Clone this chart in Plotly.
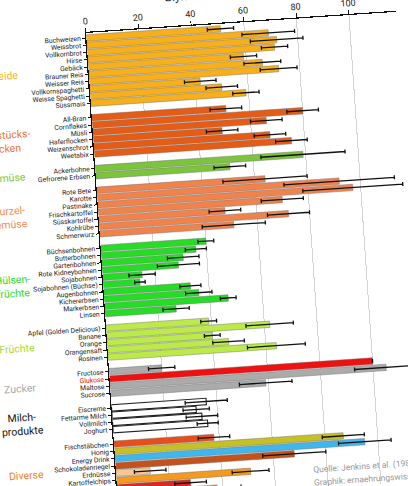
import plotly.graph_objects as go

# ---------------- data ----------------
getreide_items = ["Buchweizen", "Weissbrot", "Vollkornbrot", "Hirse", "Gebäck", "Brauner Reis",
                  "Weisser Reis", "Vollkornspaghetti", "Weisse Spaghetti", "Süssmais"]
getreide_gi = [51, 69, 72, 71, 59, 66, 72, 42, 50, 59]
getreide_err = [5, 10, 10, 5, 5, 7, 7, 6, 6, 5]

flocken_items = ["All-Bran", "Cornflakes", "Müsli", "Haferflocken", "Weizenschrot", "Weetabix"]
flocken_gi = [51, 80, 66, 49, 67, 75]
flocken_err = [6, 6, 6, 6, 6, 6]

gemuese_items = ["Ackerbohne", "Gefrorene Erbsen"]
gemuese_gi = [79, 51]
gemuese_err = [16, 6]

wurzel_items = ["Rote Bete", "Karotte", "Pastinake", "Frischkartoffel", "Süsskartoffel", "Kohlrübe", "Schmerwurz"]
wurzel_gi = [64, 92, 97, 70, 48, 72, 51]
wurzel_err = [16, 21, 19, 8, 6, 8, 12]

huelsen_items = ["Büchsenbohnen", "Butterbohnen", "Gartenbohnen", "Rote Kidneybohnen", "Sojabohnen",
                 "Sojabohnen (Büchse)", "Augenbohnen", "Kichererbsen", "Markerbsen", "Linsen"]
huelsen_gi = [40, 36, 31, 29, 15, 14, 33, 36, 47, 27]
huelsen_err = [3, 4, 6, 8, 5, 2, 4, 5, 3, 5]

fruechte_items = ["Apfel (Golden Delicious)", "Banane", "Orange", "Orangensaft", "Rosinen"]
fruechte_gi = [39, 62, 40, 46, 64]
fruechte_err = [3, 9, 3, 6, 11]

zucker_items = ["Fructose", "Glukose", "Maltose", "Sucrose"]
zucker_gi = [20, 100, 105, 59]
zucker_err = [5, None, 12, 10]

milch_items = ["Eiscreme", "Fettarme Milch", "Vollmilch", "Joghurt"]
milch_gi = [36, 32, 34, 36]
milch_err = [8, 5, 6, 4]

diverse_items = ["Fischstäbchen", "Honig", "Energy Drink", "Schokoladenriegel", "Erdnüsse",
                 "Kartoffelchips", "Würstchen", "Tomatensuppe"]
diverse_gi = [38, 87, 95, 68, 13, 51, 28, 38]
diverse_err = [6, 8, 10, 12, 6, 7, 6, 9]

group_names = ["Getreide", "Frühstücks-<br>flocken", "Gemüse", "Wurzel-<br>gemüse", "Hülsen-<br>früchte",
               "Früchte", "Zucker", "Milch-<br>produkte", "Diverse"]
group_label_colors = ["#F5B41E", "#EC7232", "#84C43E", "#F28E56", "#2FDA2F",
                      "#A9D834", "#A8A8A8", "#111111", "#EF7E2C"]

bar_colors = [
    ["#F7B01A"] * 10,
    ["#E55C16"] * 6,
    ["#7CC43C"] * 2,
    ["#F0834C"] * 7,
    ["#26DC26"] * 10,
    ["#BCEA48"] * 5,
    ["#ABABAB", "#EE1111", "#ABABAB", "#ABABAB"],
    ["#FFFFFF"] * 4,
    ["#E64E1A", "#C6C024", "#3FB6EC", "#C4521C", "#F6C896", "#F59A1E", "#D82A22", "#F07A22"],
]

groups = [
    (getreide_items, getreide_gi, getreide_err),
    (flocken_items, flocken_gi, flocken_err),
    (gemuese_items, gemuese_gi, gemuese_err),
    (wurzel_items, wurzel_gi, wurzel_err),
    (huelsen_items, huelsen_gi, huelsen_err),
    (fruechte_items, fruechte_gi, fruechte_err),
    (zucker_items, zucker_gi, zucker_err),
    (milch_items, milch_gi, milch_err),
    (diverse_items, diverse_gi, diverse_err),
]

x_ticks = [0, 20, 40, 60, 80, 100]

# ---------------- figure ----------------
fig = go.Figure()
tickvals, ticktext = [], []
annotations = []
pos = 0
for gi, (items, vals, errs) in enumerate(groups):
    ys = list(range(pos, pos + len(items)))
    is_milk = gi == 7
    fig.add_trace(go.Bar(
        x=vals, y=ys, orientation="h",
        marker=dict(color=bar_colors[gi],
                    line=dict(color="#222222" if is_milk else "rgba(110,110,110,0.55)",
                              width=1.1 if is_milk else 0.8)),
        width=0.88,
        error_x=dict(type="data", array=errs, symmetric=True, color="#111111",
                     thickness=1.3, width=2),
        hoverinfo="skip", showlegend=False,
    ))
    for y, name in zip(ys, items):
        tickvals.append(y)
        ticktext.append('<span style="color:#EE1111">%s</span>' % name if name == "Glukose" else name)
    annotations.append(dict(
        x=0, xref="paper", xshift=-90, xanchor="center",
        y=(ys[0] + ys[-1]) / 2, yref="y", yanchor="middle",
        text=group_names[gi], showarrow=False, align="center",
        font=dict(family="Roboto", size=10.5, color=group_label_colors[gi]),
    ))
    pos += len(items) + 1

annotations.append(dict(x=50, xref="x", y=1, yref="paper", yanchor="bottom", yshift=21,
                        text="Glykämischer Index", showarrow=False,
                        font=dict(family="Roboto", size=12, color="#222")))
annotations.append(dict(x=74, xref="x", y=61.4, yref="y", xanchor="left", yanchor="middle",
                        text="Quelle: Jenkins et al. (1981)", showarrow=False,
                        font=dict(family="Roboto", size=8.5, color="#9a9a9a")))
annotations.append(dict(x=74, xref="x", y=63.2, yref="y", xanchor="left", yanchor="middle",
                        text="Graphik: ernaehrungswissenschaft.ch", showarrow=False,
                        font=dict(family="Roboto", size=8.5, color="#9a9a9a")))

EXTRA = 100          # extra room on the left so the outer labels are not clipped
ML, MT = 86 + EXTRA, 33
PW, PH = 311, 470
fig.update_layout(
    width=ML + PW + 30, height=MT + PH + 20,
    margin=dict(l=ML, t=MT, r=30, b=20, pad=0),
    plot_bgcolor="white", paper_bgcolor="white",
    bargap=0.1,
    annotations=annotations,
    font=dict(family="Roboto", color="#222"),
)
fig.update_xaxes(side="top", range=[0, 118], tickvals=x_ticks,
                 showgrid=True, gridcolor="#d4d4d4", gridwidth=1,
                 showline=True, linecolor="#111", linewidth=1.2,
                 ticks="outside", ticklen=4, tickcolor="#111",
                 tickfont=dict(family="Roboto", size=9, color="#222"),
                 zeroline=False, fixedrange=True)
fig.update_yaxes(range=[63.96, -0.688], tickvals=tickvals, ticktext=ticktext,
                 showgrid=False, showline=True, linecolor="#111", linewidth=1.2,
                 ticks="outside", ticklen=3, tickcolor="#111",
                 tickfont=dict(family="Roboto", size=6.8, color="#222"),
                 zeroline=False, fixedrange=True)

post = """
var gd = document.querySelector('.plotly-graph-div');
document.documentElement.style.overflow = 'hidden';
document.body.style.margin = '0';
document.body.style.overflow = 'hidden';
gd.style.transformOrigin = '186px 33px';
gd.style.transform = 'translate(-100px, 0px) rotate(-3.9deg)';
"""
fig.write_html("out.html", config={"displayModeBar": False, "staticPlot": True}, post_script=post)
